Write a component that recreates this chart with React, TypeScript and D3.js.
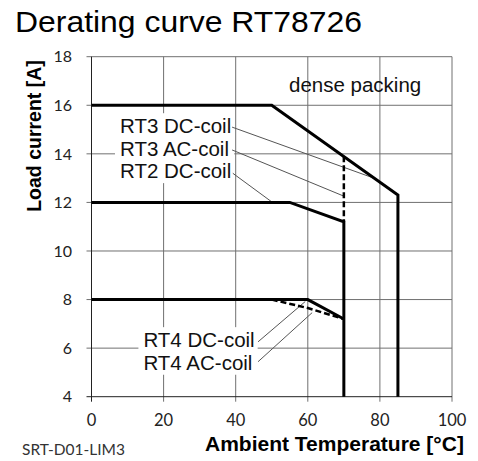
import React, { useEffect, useRef } from "react";
import * as d3 from "d3";

// chart values
const xTicks = [0, 20, 40, 60, 80, 100];
const yTicks = [4, 6, 8, 10, 12, 14, 16, 18];

const rt3DcX = [0, 50, 85, 85];
const rt3DcY = [16, 16, 12.3, 4];
const rt2DcX = [0, 55, 70, 70];
const rt2DcY = [12, 12, 11.2, 4];
const rt3AcX = [70, 70];
const rt3AcY = [13.9, 11.2];
const rt4DcX = [0, 60, 70];
const rt4DcY = [8, 8, 7.2];
const rt4AcX = [50, 60, 70];
const rt4AcY = [8, 7.65, 7.2];

// label text, text anchor (data units), leader start and end (data units)
const upperLabels = ["RT3 DC-coil", "RT3 AC-coil", "RT2 DC-coil"];
const upperLabelY = [14.85, 13.92, 13.0];
const upperLeaderFrom = [[39, 15.1], [39, 14.16], [39.2, 13.2]];
const upperLeaderTo = [[78.5, 12.99], [69.8, 12.27], [50.2, 12.0]];

const lowerLabels = ["RT4 DC-coil", "RT4 AC-coil"];
const lowerLabelY = [6.04, 5.11];
const lowerLeaderFrom = [[46.2, 6.26], [46.2, 5.44]];
const lowerLeaderTo = [[59.3, 7.92], [61.2, 7.46]];

const W = 478;
const H = 461;

export default function App() {
  const ref = useRef<SVGSVGElement>(null);

  useEffect(() => {
    const svg = d3.select(ref.current);
    svg.selectAll("*").remove();

    const x = d3.scaleLinear().domain([0, 100]).range([91.5, 452]);
    const y = d3.scaleLinear().domain([4, 18]).range([396.7, 56.7]);

    const grid = "#707070";

    // grid
    const g = svg.append("g");
    g.selectAll(".vg")
      .data(xTicks.slice(1))
      .enter()
      .append("line")
      .attr("x1", (d) => x(d))
      .attr("x2", (d) => x(d))
      .attr("y1", y(18))
      .attr("y2", y(4) + 5)
      .attr("stroke", grid)
      .attr("stroke-width", 1);
    g.selectAll(".hg")
      .data(yTicks.slice(1))
      .enter()
      .append("line")
      .attr("x1", x(0) - 5)
      .attr("x2", x(100))
      .attr("y1", (d) => y(d))
      .attr("y2", (d) => y(d))
      .attr("stroke", grid)
      .attr("stroke-width", 1);

    // axes
    g.append("line")
      .attr("x1", x(0)).attr("x2", x(0))
      .attr("y1", y(18)).attr("y2", y(4) + 5)
      .attr("stroke", "#222");
    g.append("line")
      .attr("x1", x(0) - 5).attr("x2", x(100))
      .attr("y1", y(4)).attr("y2", y(4))
      .attr("stroke", "#222");

    // tick labels
    svg.append("g")
      .selectAll("text")
      .data(yTicks)
      .enter()
      .append("text")
      .attr("x", 72)
      .attr("y", (d) => y(d))
      .attr("dy", "0.36em")
      .attr("text-anchor", "end")
      .style("font", "16px Lato")
      .attr("fill", "#222")
      .text((d) => d);
    svg.append("g")
      .selectAll("text")
      .data(xTicks)
      .enter()
      .append("text")
      .attr("x", (d) => x(d))
      .attr("y", 426)
      .attr("text-anchor", "middle")
      .style("font", "16.5px Lato")
      .attr("fill", "#222")
      .text((d) => d);

    // white boxes behind the labels (cover the grid), sized after text is measured
    const upperBox = svg.append("rect").attr("fill", "#fff");
    const lowerBox = svg.append("rect").attr("fill", "#fff");

    // leader lines
    const leaders = svg.append("g");
    const addLeaders = (from: number[][], to: number[][]) =>
      from.forEach((f, i) => {
        leaders.append("line")
          .attr("x1", x(f[0])).attr("y1", y(f[1]))
          .attr("x2", x(to[i][0])).attr("y2", y(to[i][1]))
          .attr("stroke", "#555")
          .attr("stroke-width", 1);
      });
    addLeaders(upperLeaderFrom, upperLeaderTo);
    addLeaders(lowerLeaderFrom, lowerLeaderTo);

    // curves
    const line = d3.line<[number, number]>().x((d) => x(d[0])).y((d) => y(d[1]));
    const curve = (xs: number[], ys: number[], dashed = false) => {
      const p = svg.append("path")
        .attr("d", line(xs.map((v, i) => [v, ys[i]])))
        .attr("fill", "none")
        .attr("stroke", "#000")
        .attr("stroke-width", dashed ? 2.5 : 3);
      if (dashed) p.attr("stroke-dasharray", "6,3");
    };
    curve(rt3DcX, rt3DcY);
    curve(rt2DcX, rt2DcY);
    curve(rt4DcX, rt4DcY);
    curve(rt3AcX, rt3AcY, true);
    curve(rt4AcX, rt4AcY, true);

    // labels
    const lab = (texts: string[], ys: number[], x0: number) =>
      svg.append("g")
        .selectAll("text")
        .data(texts)
        .enter()
        .append("text")
        .attr("x", x(x0))
        .attr("y", (d, i) => y(ys[i]))
        .style("font", "20.5px 'Liberation Sans'")
        .attr("fill", "#111")
        .text((d) => d);
    const up = lab(upperLabels, upperLabelY, 7.9);
    const low = lab(lowerLabels, lowerLabelY, 14.4);

    const fitBox = (box: any, grp: any) => {
      const b = (grp.node().parentNode as SVGGElement).getBBox();
      box.attr("x", b.x - 5).attr("y", b.y - 1)
        .attr("width", b.width + 8).attr("height", b.height + 2);
    };
    fitBox(upperBox, up);
    fitBox(lowerBox, low);

    svg.append("text")
      .attr("x", 289)
      .attr("y", 92)
      .style("font", "20.5px 'Liberation Sans'")
      .attr("fill", "#111")
      .text("dense packing");

    // titles
    svg.append("text")
      .attr("x", 15)
      .attr("y", 32)
      .attr("textLength", 347)
      .attr("lengthAdjust", "spacingAndGlyphs")
      .style("font", "30px 'Liberation Sans'")
      .attr("fill", "#000")
      .text("Derating curve RT78726");
    svg.append("text")
      .attr("transform", "translate(41,136) rotate(-90)")
      .attr("text-anchor", "middle")
      .style("font", "bold 19.5px 'Liberation Sans'")
      .attr("fill", "#000")
      .text("Load current [A]");
    svg.append("text")
      .attr("x", 205)
      .attr("y", 451)
      .style("font", "bold 21px 'Liberation Sans'")
      .attr("fill", "#000")
      .text("Ambient Temperature [°C]");
    svg.append("text")
      .attr("x", 22)
      .attr("y", 455)
      .style("font", "15.5px Lato")
      .attr("fill", "#333")
      .text("SRT-D01-LIM3");
  }, []);

  return (
    <svg
      ref={ref}
      width={W}
      height={H}
      style={{ position: "absolute", left: 0, top: 0, background: "#fff" }}
    />
  );
}
